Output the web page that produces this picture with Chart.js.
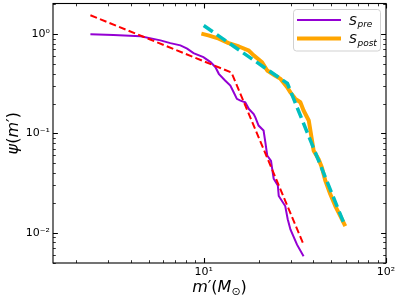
<!DOCTYPE html>
<html><head><meta charset="utf-8">
<script src="https://cdn.jsdelivr.net/npm/chart.js@4/dist/chart.umd.min.js"></script>
<style>html,body{margin:0;padding:0;background:#fff}#wrap{width:399px;height:300px}</style>
</head><body><div id="wrap"><canvas id="c" width="399" height="300"></canvas></div>
<script>
// ---- data ----
const preX = [2.39, 3.20, 4.50, 5.79, 6.56, 7.45, 8.11, 8.79, 9.96, 10.9, 11.6, 12.1, 13.1, 14.0, 14.6, 15.2, 15.9, 16.9, 17.7, 18.8, 19.2, 20.0, 21.3, 21.8, 22.3, 23.4, 23.7, 24.2, 25.5, 25.8, 28.0, 28.9, 29.9, 32.5, 35.3];
const preY = [0.993, 0.977, 0.948, 0.864, 0.811, 0.769, 0.713, 0.643, 0.586, 0.522, 0.464, 0.398, 0.341, 0.303, 0.260, 0.223, 0.214, 0.206, 0.176, 0.157, 0.145, 0.120, 0.107, 0.081, 0.060, 0.053, 0.045, 0.035, 0.030, 0.0235, 0.0186, 0.0137, 0.0108, 0.0076, 0.0058];
const postX = [9.71, 10.6, 12.1, 13.7, 15.6, 17.7, 18.8, 20.9, 22.3, 24.7, 26.4, 28.7, 29.9, 31.8, 33.9, 35.3, 37.7, 39.3, 40.1, 42.7, 44.5, 46.5, 49.5, 52.7, 56.1, 59.8];
const postY = [1.01, 0.97, 0.90, 0.81, 0.75, 0.68, 0.61, 0.52, 0.43, 0.38, 0.354, 0.292, 0.259, 0.223, 0.206, 0.170, 0.135, 0.0845, 0.0669, 0.0551, 0.0454, 0.0333, 0.0244, 0.0186, 0.0148, 0.0117];
const preFitX = [2.39, 14.2, 35.3];
const preFitY = [1.545, 0.410, 0.00764];
const postFitX = [10.0, 28.8, 59.6];
const postFitY = [1.22, 0.318, 0.0117];
const xTickValues = [10, 100];
const yTickValues = [0.01, 0.1, 1];
const legendNames = [['S', 'pre'], ['S', 'post']];

const pts = (xs, ys) => xs.map((v, i) => ({x: v, y: ys[i]}));
const SUP = {'0':'⁰','1':'¹','2':'²','3':'³','-':'⁻'};
function tickLabel(v) {
  const e = Math.round(Math.log10(v));
  return '10' + String(e).split('').map(c => SUP[c]).join('');
}

const FONT = '"DejaVu Sans", sans-serif';
const PURPLE = 'rgb(148,0,211)', ORANGE = 'rgb(255,165,0)', RED = 'rgb(255,0,0)', CYAN = 'rgb(0,191,191)';

function drawPieces(ctx, pieces, x, y) {
  let cx = x;
  for (const p of pieces) {
    ctx.font = p.f;
    ctx.fillText(p.t, cx, y + (p.dy || 0));
    cx += ctx.measureText(p.t).width + (p.sp || 0);
  }
}
function piecesWidth(ctx, pieces) {
  let w = 0;
  for (const p of pieces) { ctx.font = p.f; w += ctx.measureText(p.t).width + (p.sp || 0); }
  return w;
}
function noPad(s) { s.paddingTop = 0; s.paddingBottom = 0; s.paddingLeft = 0; s.paddingRight = 0; }

const deco = {
  id: 'deco',
  afterDatasetsDraw(chart) {
    const {ctx, chartArea: a, scales: {x, y}} = chart;
    ctx.save();
    ctx.strokeStyle = '#000';
    const xs = [], ys = [];
    for (const d of [1, 10]) for (let k = 1; k <= 9; k++) xs.push({v: k * d, major: k === 1});
    xs.push({v: 100, major: true});
    for (const d of [0.001, 0.01, 0.1, 1]) for (let k = 1; k <= 9; k++) ys.push({v: k * d, major: k === 1});
    for (const t of xs) {
      if (t.v < x.min || t.v > x.max) continue;
      const px = Math.round(x.getPixelForValue(t.v)) + 0.5;
      const len = t.major ? 4.9 : 2.8;
      ctx.lineWidth = t.major ? 1.1 : 0.8;
      ctx.beginPath();
      ctx.moveTo(px, a.bottom); ctx.lineTo(px, a.bottom - len);
      ctx.moveTo(px, a.top); ctx.lineTo(px, a.top + len);
      ctx.stroke();
    }
    for (const t of ys) {
      if (t.v < y.min || t.v > y.max) continue;
      const py = Math.round(y.getPixelForValue(t.v)) + 0.5;
      const len = t.major ? 4.9 : 2.8;
      ctx.lineWidth = t.major ? 1.1 : 0.8;
      ctx.beginPath();
      ctx.moveTo(a.left, py); ctx.lineTo(a.left + len, py);
      ctx.moveTo(a.right, py); ctx.lineTo(a.right - len, py);
      ctx.stroke();
    }
    ctx.lineWidth = 1.1;
    ctx.strokeRect(a.left, a.top, a.right - a.left, a.bottom - a.top);

    // legend
    const lx = 293.5, ly = 9.5, lw = 87, lh = 41.5, r = 3;
    ctx.fillStyle = 'rgba(255,255,255,0.8)';
    ctx.strokeStyle = 'rgba(204,204,204,0.9)';
    ctx.lineWidth = 1;
    ctx.beginPath();
    ctx.roundRect(lx, ly, lw, lh, r);
    ctx.fill(); ctx.stroke();
    const rows = [{c: PURPLE, w: 2, y: 20}, {c: ORANGE, w: 4, y: 38.5}];
    rows.forEach((row, i) => {
      ctx.strokeStyle = row.c; ctx.lineWidth = row.w;
      ctx.beginPath(); ctx.moveTo(297, row.y); ctx.lineTo(341, row.y); ctx.stroke();
      ctx.fillStyle = '#000';
      ctx.textBaseline = 'alphabetic'; ctx.textAlign = 'left';
      drawPieces(ctx, [
        {t: legendNames[i][0], f: 'italic 12.5px ' + FONT, sp: 0.5},
        {t: legendNames[i][1], f: 'italic 9px ' + FONT, dy: 2.5}
      ], 349, row.y + 4.5);
    });

    // axis titles
    ctx.fillStyle = '#000';
    ctx.textBaseline = 'alphabetic'; ctx.textAlign = 'left';
    const xt = [
      {t: 'm', f: 'italic 16px ' + FONT},
      {t: '′', f: '16px ' + FONT},
      {t: '(', f: '16px ' + FONT},
      {t: 'M', f: 'italic 16px ' + FONT},
      {t: '⊙', f: '11px ' + FONT, dy: 3},
      {t: ')', f: '16px ' + FONT}
    ];
    const xw = piecesWidth(ctx, xt);
    drawPieces(ctx, xt, (a.left + a.right) / 2 - xw / 2, 292);
    const yt = [
      {t: 'ψ', f: 'italic 16px ' + FONT},
      {t: '(', f: '16px ' + FONT},
      {t: 'm', f: 'italic 16px ' + FONT},
      {t: '′', f: '16px ' + FONT},
      {t: ')', f: '16px ' + FONT}
    ];
    const yw = piecesWidth(ctx, yt);
    ctx.translate(18, (a.top + a.bottom) / 2);
    ctx.rotate(-Math.PI / 2);
    drawPieces(ctx, yt, -yw / 2, 0);
    ctx.restore();
  }
};

new Chart(document.getElementById('c'), {
  type: 'line',
  data: {
    datasets: [
      {label: 'post fit', data: pts(postFitX, postFitY), borderColor: CYAN, borderWidth: 3.5, borderDash: [11, 5], order: 0},
      {label: 'S_post', data: pts(postX, postY), borderColor: ORANGE, borderWidth: 4, order: 1, borderJoinStyle: 'round'},
      {label: 'pre fit', data: pts(preFitX, preFitY), borderColor: RED, borderWidth: 2, borderDash: [7, 3.3], order: 2},
      {label: 'S_pre', data: pts(preX, preY), borderColor: PURPLE, borderWidth: 2, order: 3}
    ]
  },
  options: {
    responsive: false,
    animation: false,
    devicePixelRatio: 1,
    elements: {point: {radius: 0, hoverRadius: 0}, line: {tension: 0, fill: false}},
    layout: {padding: {top: 3.5, right: 13, left: 0, bottom: 0}},
    plugins: {legend: {display: false}, tooltip: {enabled: false}},
    scales: {
      x: {
        type: 'logarithmic', position: 'bottom', min: 1.49, max: 100,
        grid: {display: false, drawTicks: false}, border: {display: false},
        afterBuildTicks: s => { s.ticks = xTickValues.map(v => ({value: v})); },
        afterFit: s => { s.height = 37; noPad(s); },
        ticks: {autoSkip: false, maxRotation: 0, padding: 3, color: '#000',
          font: {family: FONT, size: 11}, callback: v => tickLabel(v)}
      },
      y: {
        type: 'logarithmic', position: 'left', min: 0.00497, max: 2.03,
        grid: {display: false, drawTicks: false}, border: {display: false},
        afterBuildTicks: s => { s.ticks = yTickValues.map(v => ({value: v})); },
        afterFit: s => { s.width = 53; noPad(s); },
        ticks: {autoSkip: false, padding: 3, color: '#000',
          font: {family: FONT, size: 11}, callback: v => tickLabel(v)}
      }
    }
  },
  plugins: [deco]
});
</script>
</body></html>
